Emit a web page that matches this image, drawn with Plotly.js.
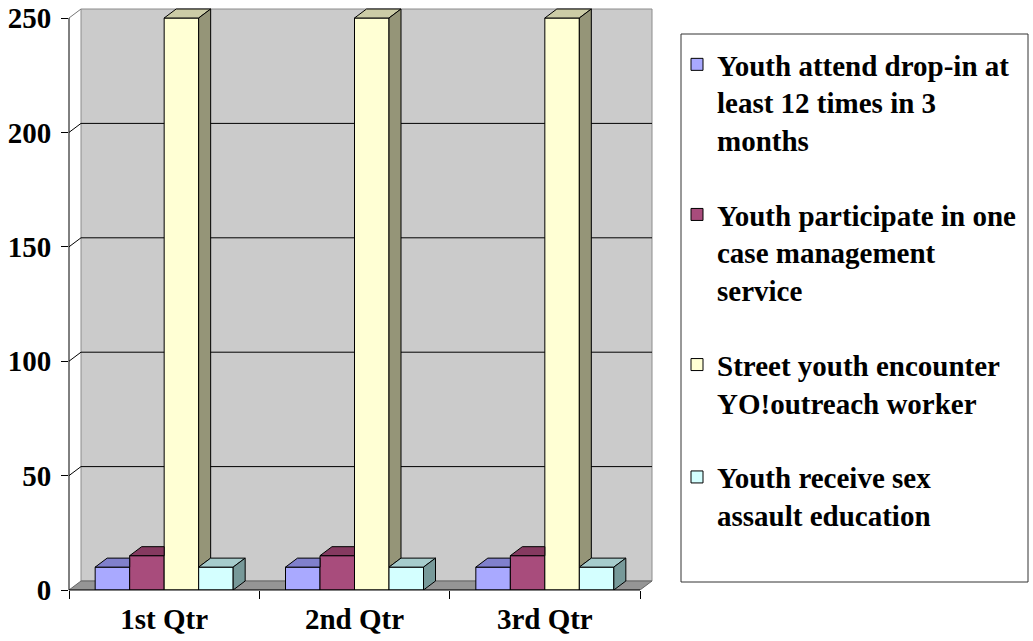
<!DOCTYPE html>
<html>
<head>
<meta charset="utf-8">
<script src="https://cdn.plot.ly/plotly-3.0.1.min.js"></script>
<style>
  html, body { margin: 0; padding: 0; background: #ffffff; }
  #chart { width: 1033px; height: 641px; }
</style>
</head>
<body>
<div id="chart"></div>
<script>
// Quarterly outcome counts
const quarters = ['1st Qtr', '2nd Qtr', '3rd Qtr'];
const seriesNames = [
  'Youth attend drop-in at<br>least 12 times in 3<br>months',
  'Youth participate in one<br>case management<br>service',
  'Street youth encounter<br>YO!outreach worker',
  'Youth receive sex<br>assault education'
];
const dropIn       = [10, 10, 10];
const caseMgmt     = [15, 15, 15];
const outreach     = [250, 250, 250];
const sexAssaultEd = [10, 10, 10];
const yTicks = [0, 50, 100, 150, 200, 250];

const seriesValues = [dropIn, caseMgmt, outreach, sexAssaultEd];

// Face colours: front, top (lit from above), right side (shaded)
const frontColors = ['#A9A9FF', '#A84C7C', '#FFFFD4', '#D4FFFF'];
const topColors   = ['#8080CC', '#853A60', '#CCCCA6', '#A6CCCC'];
const sideColors  = ['#6B6BAA', '#6E304F', '#959578', '#779999'];

// Page and pseudo-3D frame geometry (pixels)
const W = 1033, H = 641;
const AX_L = 69, AX_R = 640, AX_B = 590, AX_T = 18;
const DEPTH_X = 12, DEPTH_Y = 9;
const BARGAP = 0.275;
const FONT = 'Liberation Serif, Times New Roman, serif';

const yMax = yTicks[yTicks.length - 1];
const nCat = quarters.length;
const pxPerX = (AX_R - AX_L) / nCat;
const pxPerY = (AX_B - AX_T) / yMax;
const dxU = DEPTH_X / pxPerX;
const dyU = DEPTH_Y / pxPerY;
const xLo = -0.5, xHi = nCat - 0.5;

const xRange = [xLo, xHi + (DEPTH_X + 2) / pxPerX];
const yRange = [0, yMax + (DEPTH_Y + 2) / pxPerY];
const xDomain = [AX_L / W, (AX_R + DEPTH_X + 2) / W];
const yDomain = [(H - AX_B) / H, (H - (AX_T - DEPTH_Y - 2)) / H];

const traces = [];

// Front faces of the columns
seriesValues.forEach((vals, s) => {
  traces.push({
    type: 'bar',
    x: quarters,
    y: vals,
    name: seriesNames[s],
    legendgroup: 'g' + s,
    marker: { color: frontColors[s], line: { color: '#000000', width: 1 } },
    hoverinfo: 'y+name'
  });
});

// Top and side faces, computed from the same values
const groupW = 1 - BARGAP;
const bw = groupW / seriesValues.length;
function face(xs, ys, color) {
  traces.push({
    type: 'scatter', mode: 'lines', xaxis: 'x2', yaxis: 'y',
    x: xs.concat([xs[0]]), y: ys.concat([ys[0]]),
    fill: 'toself', fillcolor: color,
    line: { color: '#000000', width: 1 },
    hoverinfo: 'skip', showlegend: false
  });
}
for (let c = 0; c < nCat; c++) {
  seriesValues.forEach((vals, s) => {
    const v = vals[c];
    const xl = c - groupW / 2 + s * bw;
    const xr = xl + bw;
    const next = s < seriesValues.length - 1 ? seriesValues[s + 1][c] : 0;
    // top face, cut where the neighbouring column in front hides it
    const topRight = next > v ? xr : xr + dxU;
    face([xl, xl + dxU, topRight, xr], [v, v + dyU, v + dyU, v], topColors[s]);
    // visible part of the right side face
    if (next < v) {
      face([xr, xr + dxU, xr + dxU, xr], [next, next + dyU, v + dyU, v], sideColors[s]);
    }
  });
}

// Back wall, floor, gridlines and the axis lines
const shapes = [];
shapes.push({
  type: 'path', xref: 'x2', yref: 'y', layer: 'below',
  path: `M${xLo + dxU},${dyU} L${xHi + dxU},${dyU} L${xHi + dxU},${yMax + dyU} L${xLo + dxU},${yMax + dyU} Z`,
  fillcolor: '#CBCBCB', line: { color: '#8C8C8C', width: 1 }
});
shapes.push({
  type: 'path', xref: 'x2', yref: 'y', layer: 'below',
  path: `M${xLo},0 L${xHi},0 L${xHi + dxU},${dyU} L${xLo + dxU},${dyU} Z`,
  fillcolor: '#959595', line: { color: '#666666', width: 1 }
});
yTicks.forEach(v => {
  if (v === 0) return;
  const p = v < yMax
    ? `M${xLo},${v} L${xLo + dxU},${v + dyU} L${xHi + dxU},${v + dyU}`
    : `M${xLo},${v} L${xLo + dxU},${v + dyU}`;
  shapes.push({
    type: 'path', xref: 'x2', yref: 'y', layer: 'below', path: p,
    line: { color: v < yMax ? '#000000' : '#777777', width: 1 }
  });
});
shapes.push({
  type: 'line', xref: 'paper', yref: 'y',
  x0: xDomain[0], x1: xDomain[0], y0: 0, y1: yMax,
  line: { color: '#000000', width: 1 }
});
shapes.push({
  type: 'line', xref: 'x2', yref: 'paper',
  x0: xLo, x1: xHi, y0: yDomain[0], y1: yDomain[0],
  line: { color: '#000000', width: 1 }
});
// Legend frame
shapes.push({
  type: 'rect', xref: 'paper', yref: 'paper',
  x0: 681 / W, x1: 1028 / W, y0: (H - 582) / H, y1: (H - 34) / H,
  fillcolor: 'rgba(0,0,0,0)', line: { color: '#333333', width: 1 }
});

const layout = {
  width: W, height: H,
  margin: { l: 0, r: 0, t: 0, b: 0 },
  paper_bgcolor: '#ffffff', plot_bgcolor: 'rgba(0,0,0,0)',
  font: { family: FONT, size: 29, color: '#000000', weight: 700 },
  barmode: 'group', bargap: BARGAP, bargroupgap: 0,
  showlegend: true,
  xaxis: {
    type: 'category', domain: xDomain, range: xRange,
    tickson: 'boundaries', ticks: 'outside', ticklen: 8, tickcolor: '#000000', tickwidth: 1,
    showline: false, showgrid: false, zeroline: false, fixedrange: true,
    tickfont: { family: FONT, size: 29, color: '#000000', weight: 700 },
    ticklabelstandoff: 9
  },
  xaxis2: {
    overlaying: 'x', range: xRange, visible: false, fixedrange: true, anchor: 'y'
  },
  yaxis: {
    domain: yDomain, range: yRange,
    tickvals: yTicks, ticktext: yTicks.map(String),
    ticks: 'outside', ticklen: 7, tickcolor: '#000000', tickwidth: 1,
    showline: false, showgrid: false, zeroline: false, fixedrange: true,
    tickfont: { family: FONT, size: 29, color: '#000000', weight: 700 },
    ticklabelstandoff: 4
  },
  legend: {
    x: 677 / W, xanchor: 'left', y: (H - 39) / H, yanchor: 'top',
    valign: 'top', traceorder: 'grouped', tracegroupgap: 34,
    bgcolor: 'rgba(0,0,0,0)', borderwidth: 0,
    font: { family: FONT, size: 29, color: '#000000', weight: 700 }
  },
  shapes: shapes
};

Plotly.newPlot('chart', traces, layout, { displayModeBar: false, staticPlot: true });
</script>
</body>
</html>
